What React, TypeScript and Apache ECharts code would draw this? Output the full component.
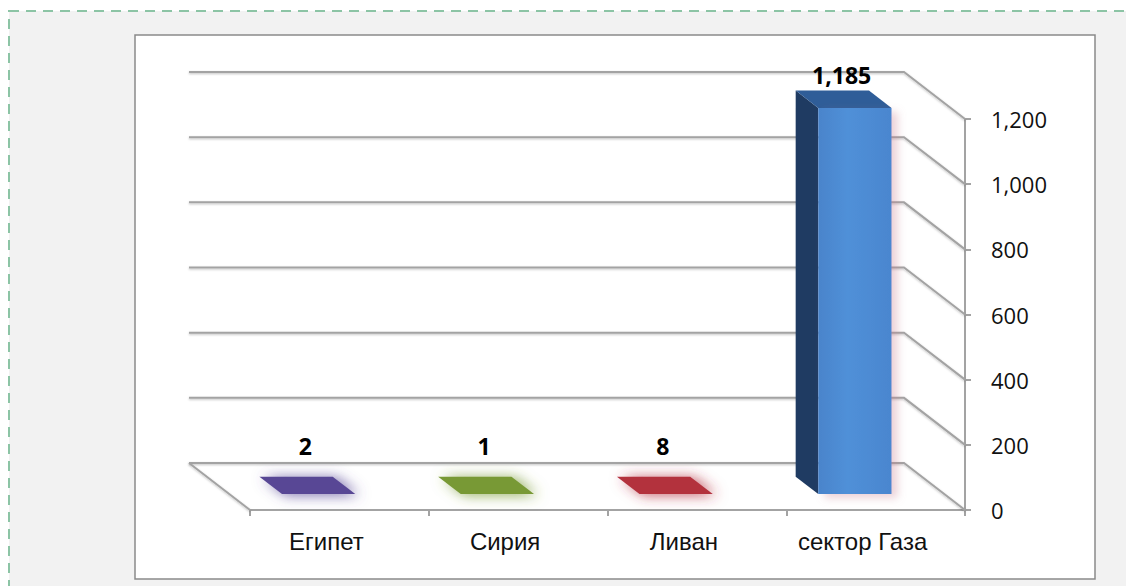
import React, { useEffect, useRef } from "react";
import * as echarts from "echarts";

const categories = ["Египет", "Сирия", "Ливан", "сектор Газа"];
const values = [2, 1, 8, 1185];
const yTickValues = [0, 200, 400, 600, 800, 1000, 1200];
const topColors = ["#584795", "#789935", "#b3323e", "#2f5d98"];
const frontColors = ["#4b3c80", "#66822c", "#9c2a35", "#4a86cf"];
const sideColors = ["#3a2e66", "#506a22", "#7e2029", "#1f3b62"];

const DX = -61;
const DY = -47;
const F1 = 0.34;
const F2 = 0.71;
const BAR_FRAC = 0.41;

export default function App() {
  const ref = useRef<HTMLDivElement>(null);
  useEffect(() => {
    if (!ref.current) return;
    const chart = echarts.init(ref.current, null, { renderer: "svg" });
    const gridLineStyle = {
      stroke: "#a3a3a3",
      lineWidth: 2,
      fill: null,
      shadowBlur: 2,
      shadowColor: "rgba(0,0,0,0.25)",
      shadowOffsetY: 1,
    };
    chart.setOption({
      animation: false,
      backgroundColor: "#ffffff",
      graphic: [
        {
          type: "rect",
          z: -100,
          shape: { x: 9, y: 11, width: 1140, height: 620 },
          style: { fill: "#f2f2f2", stroke: "#8cc4a5", lineWidth: 2, lineDash: [10, 7] },
        },
        {
          type: "rect",
          z: -90,
          shape: { x: 135, y: 35, width: 960, height: 544 },
          style: { fill: "#ffffff", stroke: "#8a8a8a", lineWidth: 1.5 },
        },
      ],
      grid: { left: 250, right: 161, top: 119, bottom: 76 },
      xAxis: {
        type: "category",
        data: categories,
        boundaryGap: true,
        axisLine: { show: true, lineStyle: { color: "#a3a3a3", width: 2 } },
        axisTick: { show: true, length: 6, alignWithLabel: false, lineStyle: { color: "#a3a3a3", width: 2 } },
        axisLabel: {
          margin: 19,
          fontSize: 24,
          fontFamily: "Liberation Sans",
          color: "#111",
          padding: [0, 26, 0, 0],
        },
        splitLine: { show: false },
      },
      yAxis: {
        type: "value",
        position: "right",
        min: 0,
        max: 1200,
        interval: 200,
        axisLine: { show: true, lineStyle: { color: "#a3a3a3", width: 2 } },
        axisTick: { show: true, length: 6, inside: false, lineStyle: { color: "#a3a3a3", width: 2 } },
        axisLabel: {
          margin: 26,
          fontSize: 22,
          fontFamily: "Open Sans",
          color: "#111",
          formatter: (v: number) => v.toLocaleString("en-US"),
        },
        splitLine: { show: false },
      },
      series: [
        {
          type: "custom",
          clip: false,
          z: 1,
          silent: true,
          data: yTickValues.map((v) => [0, v]),
          renderItem: (params: any, api: any) => {
            const v = api.value(1);
            const y = api.coord([0, v])[1];
            const cs = params.coordSys;
            const left = cs.x;
            const right = cs.x + cs.width;
            const children: any[] = [
              {
                type: "polyline",
                shape: {
                  points: [
                    [left + DX, y + DY],
                    [right + DX, y + DY],
                    [right, y],
                  ],
                },
                style: gridLineStyle,
              },
            ];
            if (v === 0) {
              children.push({
                type: "line",
                shape: { x1: left + DX, y1: y + DY, x2: left, y2: y },
                style: gridLineStyle,
              });
            }
            return { type: "group", children };
          },
        },
        {
          type: "custom",
          clip: false,
          z: 3,
          silent: true,
          data: values.map((v, i) => [i, v]),
          renderItem: (params: any, api: any) => {
            const i = api.value(0);
            const v = api.value(1);
            const base = api.coord([i, 0]);
            const top = api.coord([i, v]);
            const bw = api.size([1, 0])[0];
            const hw = (bw * BAR_FRAC) / 2;
            const cx = base[0];
            const y0 = base[1];
            const yv = top[1];
            const fx1 = cx - hw + F1 * DX;
            const fx2 = cx + hw + F1 * DX;
            const bx1 = cx - hw + F2 * DX;
            const bx2 = cx + hw + F2 * DX;
            const fyb = y0 + F1 * DY;
            const fyt = yv + F1 * DY;
            const byb = y0 + F2 * DY;
            const byt = yv + F2 * DY;
            const small = fyb - fyt < 4;
            const children: any[] = [];
            if (!small) {
              children.push({
                type: "polygon",
                shape: { points: [[fx1, fyb], [bx1, byb], [bx1, byt], [fx1, fyt]] },
                style: { fill: sideColors[i] },
              });
            }
            children.push({
              type: "polygon",
              shape: small
                ? { points: [[fx1, fyb], [fx2, fyb], [bx2, byb], [bx1, byb]] }
                : { points: [[fx1, fyt], [fx2, fyt], [bx2, byt], [bx1, byt]] },
              style: small
                ? { fill: topColors[i], shadowBlur: 14, shadowColor: topColors[i] + "cc", shadowOffsetX: 4, shadowOffsetY: 1 }
                : { fill: topColors[i] },
            });
            if (!small) {
              children.push({
                type: "rect",
                shape: { x: fx1, y: fyt, width: fx2 - fx1, height: fyb - fyt },
                style: {
                  fill: new echarts.graphic.LinearGradient(0, 0, 1, 0, [
                    { offset: 0, color: "#4a84cb" },
                    { offset: 0.4, color: "#5090d8" },
                    { offset: 1, color: frontColors[i] },
                  ]),
                  shadowBlur: 8,
                  shadowColor: "rgba(200,120,140,0.35)",
                  shadowOffsetX: 6,
                  shadowOffsetY: 4,
                },
              });
            }
            const floorBack = y0 + DY;
            const ly = Math.min(byt - 16, floorBack - 17);
            const lx = (fx1 + fx2 + bx1 + bx2) / 4 - 2;
            children.push({
              type: "text",
              x: lx,
              y: ly,
              style: {
                text: v.toLocaleString("en-US"),
                fill: "#000",
                font: "bold 23px 'Open Sans'",
                align: "center",
                verticalAlign: "middle",
              },
            });
            return { type: "group", children };
          },
        },
      ],
    });
    return () => chart.dispose();
  }, []);
  return (
    <div
      ref={ref}
      style={{ position: "absolute", left: 0, top: 0, width: 1126, height: 586 }}
    />
  );
}
